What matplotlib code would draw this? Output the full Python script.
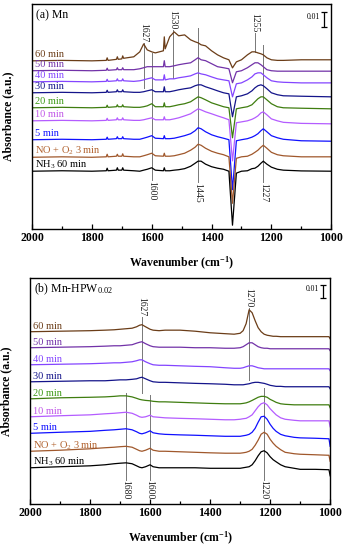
import numpy as np
import matplotlib
matplotlib.use('Agg')
import matplotlib.pyplot as plt
from matplotlib.ticker import MultipleLocator

plt.rcParams['font.family'] = 'Liberation Serif'
plt.rcParams['mathtext.fontset'] = 'custom'
plt.rcParams['mathtext.rm'] = 'Liberation Serif'
plt.rcParams['mathtext.it'] = 'Liberation Serif:italic'
plt.rcParams['mathtext.bf'] = 'Liberation Serif:bold'

# series names / colours (top to bottom)
names = ['60 min', '50 min', '40 min', '30 min', '20 min', '10 min', '5 min',
         'NO + O$_2$ 3 min', 'NH$_3$ 60 min']
line_colors = ['#6b3d18', '#7232a8', '#8445ff', '#14148a', '#3f7d10',
               '#b45cff', '#1010ff', '#a0582c', '#000000']
text_colors = ['#6b3d18', '#7232a8', '#8445ff', '#14148a', '#3c9a14',
               '#c055e8', '#1010ff', '#b0602c', '#000000']

# ---------------- (a) Mn : absorbance in 1e-3 a.u. ----------------
wn_a = [2000, 1900, 1800, 1752, 1749, 1746, 1718, 1715, 1712, 1700, 1697, 1694,
        1660, 1640, 1627, 1615, 1600, 1588, 1561, 1558, 1555,
        1540, 1525, 1510, 1490, 1470, 1455, 1445, 1435, 1420, 1400, 1380, 1360,
        1342, 1330, 1317, 1300,
        1280, 1265, 1255, 1245, 1235, 1227, 1215, 1200, 1180, 1160, 1100, 1000]

a_60 = [0, 0.3, 0, 0.3, 2, 0.3, 1, 2.7, 1, 1.3, 3.3, 1.7,
        2.7, 6, 11.3, 7.3, 6, 5.3, 6.7, 16, 8,
        16, 19.3, 16.7, 17.3, 14, 12.7, 12, 10.7, 10, 6.7, 4, 2, 0.7, -4.7, -0.7, 0.7,
        4, 6, 6, 5.3, 4.7, 4, 2, 0.7, 0.3, 0.3, 0.7, 0.7]
a_50 = [0, 0.3, 0, 0.3, 1.7, 0.3, 0.7, 2, 0.7, 0.7, 2, 0.7,
        0.7, 1.3, 2, 2.7, 2.7, 2.7, 2.7, 6.7, 2.7,
        2.7, 3.3, 4, 4.7, 5.3, 7.3, 8.7, 7.3, 6.7, 4.7, 2.7, 2, 1.3, -8, -0.7, 0,
        2, 4, 5.3, 5.3, 4, 2.7, 0.7, 0, -0.3, -0.3, -0.3, -0.3]
a_40 = [0, 0.3, 0, 0.3, 1.7, 0.3, 0.7, 2, 0.7, 0.7, 2, 0.7,
        0.3, 0.7, 1.3, 2, 2.7, 1.3, 1.3, 4.7, 1.3,
        2, 2, 2.7, 3.3, 4, 5.3, 6, 5.3, 4.7, 3.3, 2, 1.3, 0.7, -10, -1.3, -0.7,
        1.3, 3.3, 5.3, 6, 6, 4.7, 2.7, 0.7, 0, -0.3, -0.7, -0.7]
a_30 = [0, 0.3, 0, 0.3, 1.7, 0.3, 0.7, 2, 0.7, 0.7, 2, 0.7,
        0.3, 0.3, 0.7, 1.3, 2, 0.7, 0.7, 4, 0.7,
        0.7, 1.3, 2, 2.7, 3.3, 4.7, 5.3, 5.3, 4, 2.7, 1.3, 0, -0.7, -16, -2.7, -2,
        -0.7, 1.3, 3.3, 4.7, 5.3, 4.7, 2.7, 0, -1.3, -2, -2.3, -2.7]
a_20 = [0, 0.3, 0, 0.3, 1.7, 0.3, 0.7, 2, 0.7, 0.7, 2, 0.7,
        0.3, 0.3, 0.7, 1.3, 2.7, 0.7, 0.7, 3.3, 0.7,
        0.7, 1.3, 2, 2.7, 4, 6, 7.3, 6.7, 5.3, 3.3, 2, 0.7, 0, -20, -0.7, 0,
        0.7, 2, 4, 6, 7.3, 7.3, 5.3, 2.7, 0.7, 0, -0.3, -0.7]
a_10 = [0, 0.3, 0, 0.3, 1.7, 0.3, 0.7, 2, 0.7, 0.7, 2, 0.7,
        0.3, 0.3, 0.7, 1.3, 2, 0.7, 0.7, 2.7, 0.7,
        0.7, 1.3, 2, 3.3, 4.7, 6.7, 8, 7.3, 6, 4.7, 3.3, 2, 0.7, -26.7, -1.3, -0.7,
        0, 1, 2, 3.3, 5.3, 6, 4, 1.3, 0, -1, -1.7, -2]
a_5 = [0, 0.3, 0, 0.3, 1.7, 0.3, 0.7, 2, 0.7, 0.7, 2, 0.7,
       0.3, 0.3, 1, 1.7, 2.7, 1, 0.7, 2.7, 0.7,
       0.7, 1, 1.7, 2.7, 4, 6, 8, 7.3, 5.3, 3.3, 2, 1, 0, -33.3, -0.7, 0,
       0.7, 1.7, 2.7, 4, 6, 7.3, 5.3, 2.7, 1.3, 0.3, -0.7, -1]
a_no = [0, 0.3, 0, 0.3, 2, 0.3, 0.7, 2, 0.7, 0.7, 2.3, 0.7,
        0.3, 0.3, 1, 1.7, 2.7, 1, 0.7, 2.7, 0.7,
        0.7, 1, 1.7, 2.7, 4.7, 6.7, 8.7, 8, 6, 4, 2.7, 1.7, 0.3, -30.7, -0.7, 0.3,
        0.7, 2, 3.3, 4.7, 6.7, 8, 6, 3.3, 1.7, 1, 0.3, 0.3]
a_nh3 = [0, 0.3, 0, 0.3, 2, 0.3, 0.7, 2.3, 0.7, 0.7, 2.3, 0.7,
         0.3, 0, 0.7, 1.3, 2.3, 0.7, 0.3, 2.3, 0.3,
         0.3, 0.7, 1, 1.7, 3.3, 5.3, 6.7, 6.7, 4.7, 3, 2, 1.3, 0, -36, -1.3, 0,
         0.3, 1.7, 2, 3.3, 5.3, 6.7, 4.7, 2.7, 1.3, 0.7, 0.2, 0]
series_a = [a_60, a_50, a_40, a_30, a_20, a_10, a_5, a_no, a_nh3]
offset_a = [112, 105.4, 98, 90.7, 80.7, 72, 59.4, 47.7, 38.4]

marks_a = [1627, 1530, 1445, 1600, 1255, 1227]
mark_top_a = [124, 132.7, 134, 117, 130.7, 122.7]
mark_bot_a = [94, 100.7, 31.3, 32.7, 118, 31.3]
mark_side_a = ['up', 'up', 'down', 'down', 'up', 'down']

# ---------------- (b) Mn-HPW0.02 ----------------
wn_b = [2000, 1900, 1800, 1750, 1720, 1700, 1680, 1660, 1645, 1635,
        1627, 1615, 1600, 1590, 1570, 1550, 1500, 1450, 1400, 1350,
        1320, 1300, 1290, 1280, 1270, 1260, 1250, 1240, 1230, 1220,
        1210, 1200, 1190, 1180, 1165, 1150, 1120, 1100, 1050, 1004, 1000]

b_60 = [0, 0.4, 0.8, 1.2, 1.5, 1.9, 2.3, 2.7, 3.8, 5,
        5.4, 3.8, 1.9, 1.2, 0.8, 1.2, 1.2, 0.4, -0.8, -1.5,
        -1.9, -1.2, 0.8, 6.2, 16.9, 14.6, 8.5, 3.1, 0, -1.9,
        -2.7, -3.1, -3.5, -3.5, -3.8, -3.8, -3.8, -3.8, -3.8, -3.8, -5.4]
b_50 = [0, 0.4, 0.8, 1.2, 1.5, 1.5, 1.9, 2.3, 3.5, 4.2,
        4.6, 3.1, 1.5, 0.8, 0.4, 0.4, 0.4, 0, 0, -0.4,
        -0.4, 0, 0.8, 2.3, 3.8, 3.8, 2.3, 0.8, 0, -0.4,
        -0.4, -0.8, -0.8, -0.8, -0.8, -0.8, -0.8, -0.8, -0.8, -0.8, -2.3]
b_40 = [0, 0.4, 0.8, 1.2, 1.5, 1.5, 1.9, 2.3, 3.1, 3.8,
        3.8, 2.3, 0.8, 0, -0.4, -0.4, -0.8, -1.2, -1.5, -2.3,
        -2.7, -2.7, -2.3, -1.5, -0.8, -0.8, -1.5, -2.3, -2.7, -3.1,
        -3.1, -3.1, -3.1, -3.1, -3.1, -3.1, -3.1, -3.1, -3.1, -3.1, -4.6]
b_30 = [0, 0.4, 0.8, 0.8, 1.2, 1.5, 1.5, 1.9, 2.3, 3.1,
        3.5, 2.3, 0.8, 0, -0.4, -0.4, -0.8, -1.2, -1.5, -1.9,
        -2.3, -2.3, -2.3, -1.9, -1.5, -0.8, -0.4, -0.4, -0.8, -1.2,
        -1.9, -2.7, -3.1, -3.5, -3.5, -3.8, -3.8, -3.8, -3.8, -3.8, -5.4]
b_20 = [0, 0.8, 1.2, 1.5, 1.9, 2.3, 2.3, 1.5, 0.4, -0.4,
        -0.8, -1.2, -1.5, -1.9, -2.3, -2.3, -2.7, -3.1, -3.5, -3.8,
        -3.8, -3.8, -3.5, -3.1, -2.3, -1.2, 0, 1.2, 1.9, 1.9,
        1.2, -0.4, -1.5, -2.7, -3.8, -4.2, -4.6, -4.6, -4.6, -4.6, -6.9]
b_10 = [0, 0.8, 1.5, 2.3, 2.7, 3.1, 3.5, 2.7, 1.2, 0,
        -0.4, 0, 1.2, 0, -0.4, -0.8, -1.2, -1.5, -1.9, -2.3,
        -2.3, -1.9, -1.5, -1.2, 0, 1.5, 4.6, 7.7, 10, 10.8,
        9.2, 6.2, 3.8, 1.5, -0.8, -1.9, -2.7, -3.1, -3.1, -3.1, -7.7]
b_5 = [0, 0.8, 1.5, 2.3, 2.7, 3.1, 3.5, 2.7, 1.2, 0,
       -0.4, 0.4, 1.9, 0.4, -0.4, -0.8, -1.2, -1.5, -1.9, -2.3,
       -2.3, -2.3, -1.9, -1.5, -0.8, 0.8, 3.8, 8.5, 12.7, 13.1,
       10.8, 6.9, 3.8, 1.5, -0.8, -1.9, -3.1, -3.5, -3.8, -4.2, -10]
b_no = [0, 0.8, 1.9, 2.7, 3.1, 3.5, 3.8, 3.1, 1.5, 0.4,
        0, 0.8, 2.3, 0.8, 0, 0, -0.4, -0.8, -1.2, -1.5,
        -1.5, -1.5, -1.2, -0.8, 0, 1.5, 4.6, 8.5, 13.1, 14.6,
        13.1, 9.2, 6.2, 3.8, 1.2, -0.8, -1.9, -2.3, -2.7, -3.1, -7.7]
b_nh3 = [0, 0.8, 1.5, 2.3, 3.1, 3.5, 3.8, 3.1, 1.5, 0.4,
         0, 0.8, 2.3, 0.8, 0, 0, 0, 0, -0.4, -0.4,
         -0.4, -0.4, 0, 0.4, 0.8, 2.3, 5.4, 9.2, 12.3, 13.1,
         11.5, 8.5, 6.2, 4.6, 2.3, 0.8, -0.4, -1.2, -1.2, -1.5, -6.2]
series_b = [b_60, b_50, b_40, b_30, b_20, b_10, b_5, b_no, b_nh3]
offset_b = [132.3, 120, 106.9, 93.8, 80.7, 66.9, 54.2, 40.4, 27.7]

marks_b = [1627, 1270, 1680, 1600, 1220]
mark_top_b = [143.8, 150.7, 85.4, 83.8, 89.2]
mark_bot_b = [85.4, 95.4, 18.5, 18.5, 18.5]
mark_side_b = ['up', 'up', 'down', 'down', 'down']

fig = plt.figure(figsize=(3.45, 5.5), dpi=100)
ax1 = fig.add_axes([0.093, 0.584, 0.867, 0.409])
ax2 = fig.add_axes([0.087, 0.084, 0.870, 0.411])


def draw_panel(ax, wn, series, offsets, ymax, marks, tops, bots, sides, title, bar_y):
    for vals, off, lc, tc, name in zip(series, offsets, line_colors, text_colors, names):
        ax.plot(wn, off + np.array(vals), color=lc, lw=0.9)
        ax.text(1990, off + 2.3, name, color=tc, fontsize=7.5, ha='left', va='baseline')
    for w, t, b, s in zip(marks, tops, bots, sides):
        ax.plot([w, w], [b, t], color='#777777', lw=0.7, zorder=0)
        if s == 'up':
            ax.text(w, t + 0.5, str(w), rotation=270, ha='center', va='bottom',
                    fontsize=7, color='#222222')
        else:
            ax.text(w, b - 0.5, str(w), rotation=270, ha='center', va='top',
                    fontsize=7, color='#222222')
    # 0.01 scale bar
    ax.errorbar(1023, bar_y, yerr=5, fmt='none', ecolor='k', elinewidth=0.9,
                capsize=2.5, capthick=0.9)
    ax.text(1036, bar_y + 1.5, '0.01', fontsize=5.5, ha='right', va='center')
    ax.text(0.013, 0.95, title, transform=ax.transAxes, fontsize=8.5,
            ha='left', va='center')

    ax.set_xlim(2000, 1000)
    ax.set_ylim(0, ymax)
    ax.xaxis.set_major_locator(MultipleLocator(200))
    ax.xaxis.set_minor_locator(MultipleLocator(100))
    ax.tick_params(axis='x', which='both', direction='in', top=False, pad=2.5,
                   labelsize=8.5, width=0.9)
    ax.tick_params(axis='x', which='major', length=3.5)
    ax.tick_params(axis='x', which='minor', length=2)
    ax.set_yticks([])
    for lab in ax.get_xticklabels():
        lab.set_fontweight('bold')
    for sp in ax.spines.values():
        sp.set_linewidth(1.0)
    ax.set_xlabel(r'Wavenumber (cm$^{\mathbf{-1}}$)', fontsize=8.5,
                  fontweight='bold', labelpad=8)
    ax.set_ylabel('Absorbance (a.u.)', fontsize=8.5, fontweight='bold')
    ax.yaxis.set_label_coords(-0.06, 0.5)


draw_panel(ax1, wn_a, series_a, offset_a, 150, marks_a, mark_top_a, mark_bot_a,
           mark_side_a, '(a) Mn', 139.7)
draw_panel(ax2, wn_b, series_b, offset_b, 173.8, marks_b, mark_top_b, mark_bot_b,
           mark_side_b, '(b) Mn-HPW$_{0.02}$', 163.4)

fig.savefig('out.png', dpi=100, facecolor='white')
